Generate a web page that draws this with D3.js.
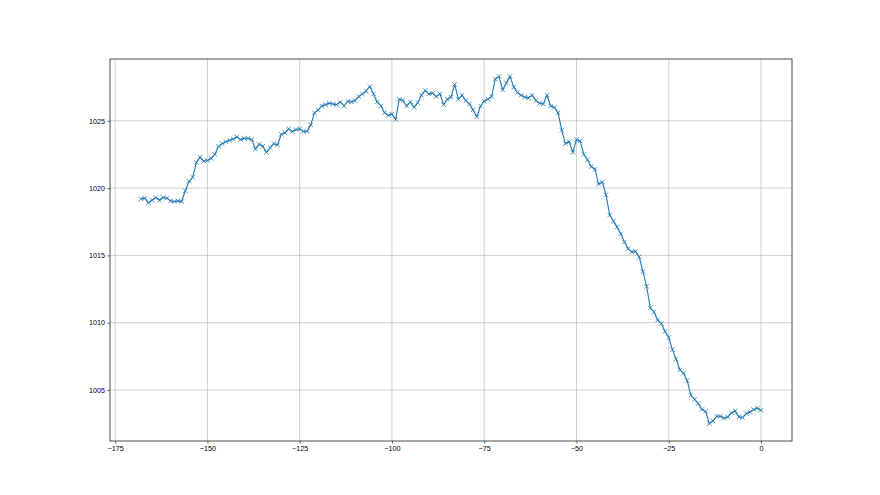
<!DOCTYPE html>
<html>
<head>
<meta charset="utf-8">
<script src="https://cdn.jsdelivr.net/npm/d3@7"></script>
<style>
  body { margin: 0; background: #fff; }
  svg { display: block; font-family: "DejaVu Sans", sans-serif; }
  .tick text { font-size: 7.2px; fill: #000; }
  .grid line { stroke: #b0b0b0; stroke-width: 0.6; }
</style>
</head>
<body>
<div id="chart"></div>
<script>
// hourly pressure readings, oldest first (last value is hour 0)
var pressure = [
  1019.2, 1019.25, 1018.9, 1019.1, 1019.3, 1019.1, 1019.3, 1019.25, 1019.05, 1019.0,
  1019.05, 1019.0, 1019.8, 1020.5, 1020.8, 1021.9, 1022.3, 1022.0, 1022.05, 1022.2,
  1022.5, 1023.1, 1023.3, 1023.45, 1023.55, 1023.65, 1023.8, 1023.6, 1023.7, 1023.7,
  1023.6, 1022.9, 1023.25, 1023.1, 1022.65, 1023.0, 1023.3, 1023.2, 1024.0, 1024.1,
  1024.4, 1024.2, 1024.35, 1024.4, 1024.2, 1024.2, 1024.7, 1025.6, 1025.8, 1026.1,
  1026.2, 1026.3, 1026.25, 1026.2, 1026.4, 1026.1, 1026.45, 1026.4, 1026.5, 1026.8,
  1027.0, 1027.2, 1027.55, 1027.0, 1026.4, 1026.1, 1025.6, 1025.4, 1025.5, 1025.1,
  1026.6, 1026.5, 1026.1, 1026.4, 1026.0, 1026.35, 1026.9, 1027.25, 1027.0, 1027.05,
  1026.8, 1027.0, 1026.2, 1026.6, 1026.75, 1027.7, 1026.6, 1026.9, 1026.5, 1026.25,
  1025.8, 1025.3, 1026.1, 1026.45, 1026.6, 1026.8, 1028.1, 1028.3, 1027.3, 1027.8,
  1028.3, 1027.5, 1027.1, 1026.9, 1026.75, 1026.7, 1026.9, 1026.5, 1026.3, 1026.25,
  1026.9, 1026.1, 1026.0, 1025.6, 1024.3, 1023.3, 1023.45, 1022.65, 1023.6, 1023.5,
  1022.5, 1022.1, 1021.6, 1021.4, 1020.3, 1020.45, 1019.5, 1018.0, 1017.55, 1017.1,
  1016.6, 1016.0, 1015.5, 1015.25, 1015.3, 1014.9, 1013.8, 1012.7, 1011.1, 1010.8,
  1010.2, 1009.95, 1009.35, 1008.9, 1008.0, 1007.3, 1006.5, 1006.25, 1005.7, 1004.6,
  1004.3, 1004.0, 1003.55, 1003.4, 1002.5, 1002.7, 1003.05, 1003.05, 1002.9, 1003.0,
  1003.3, 1003.45, 1003.0, 1002.95, 1003.25, 1003.35, 1003.55, 1003.65, 1003.5
];
// hours relative to now
var hours = pressure.map(function(d, i) { return i - (pressure.length - 1); });

var xTicks = [-175, -150, -125, -100, -75, -50, -25, 0];
var yTicks = [1005, 1010, 1015, 1020, 1025];

var width = 880, height = 495;
var margin = { top: 59, right: 88, bottom: 54, left: 110 };
var innerW = width - margin.left - margin.right;
var innerH = height - margin.top - margin.bottom;

// matplotlib style 5% padding around the data
function padded(ext) {
  var p = (ext[1] - ext[0]) * 0.05;
  return [ext[0] - p, ext[1] + p];
}

var x = d3.scaleLinear().domain(padded(d3.extent(hours))).range([0, innerW]);
var y = d3.scaleLinear().domain(padded(d3.extent(pressure))).range([innerH, 0]);

var svg = d3.select("#chart").append("svg")
  .attr("width", width)
  .attr("height", height)
  .append("g")
  .attr("transform", "translate(" + margin.left + "," + margin.top + ")");

// grid
svg.append("g").attr("class", "grid")
  .selectAll("line.v").data(xTicks).enter().append("line")
  .attr("x1", function(d) { return x(d); })
  .attr("x2", function(d) { return x(d); })
  .attr("y1", 0).attr("y2", innerH);
svg.append("g").attr("class", "grid")
  .selectAll("line.h").data(yTicks).enter().append("line")
  .attr("y1", function(d) { return y(d); })
  .attr("y2", function(d) { return y(d); })
  .attr("x1", 0).attr("x2", innerW);

var fmt = function(d) { return d < 0 ? "\u2212" + Math.abs(d) : String(d); };

// axes
var xAxis = svg.append("g")
  .attr("transform", "translate(0," + innerH + ")")
  .call(d3.axisBottom(x).tickValues(xTicks).tickFormat(fmt).tickSize(2.5).tickPadding(2.5));
var yAxis = svg.append("g")
  .call(d3.axisLeft(y).tickValues(yTicks).tickFormat(d3.format("d")).tickSize(2.5).tickPadding(2.5));
[xAxis, yAxis].forEach(function(a) {
  a.select(".domain").remove();
  a.selectAll(".tick line").attr("stroke", "#000").attr("stroke-width", 0.6);
});

// the line
var line = d3.line()
  .x(function(d, i) { return x(hours[i]); })
  .y(function(d) { return y(d); });

svg.append("path")
  .datum(pressure)
  .attr("fill", "none")
  .attr("stroke", "#1f77b4")
  .attr("stroke-width", 1.1)
  .attr("stroke-linejoin", "round")
  .attr("d", line);

// 'x' markers
var m = 2.2;
svg.append("g").selectAll("path.marker").data(pressure).enter().append("path")
  .attr("class", "marker")
  .attr("transform", function(d, i) { return "translate(" + x(hours[i]) + "," + y(d) + ")"; })
  .attr("d", "M" + (-m) + "," + (-m) + "L" + m + "," + m + "M" + (-m) + "," + m + "L" + m + "," + (-m))
  .attr("stroke", "#1f77b4")
  .attr("stroke-width", 0.8)
  .attr("fill", "none");

// frame
svg.append("rect")
  .attr("width", innerW).attr("height", innerH)
  .attr("fill", "none")
  .attr("stroke", "#222")
  .attr("stroke-width", 0.8);
</script>
</body>
</html>
